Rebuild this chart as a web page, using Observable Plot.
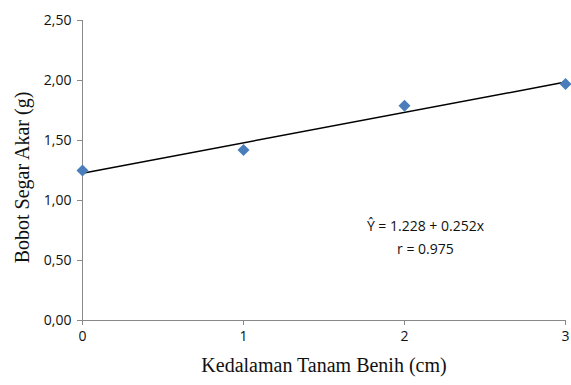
<!DOCTYPE html>
<html><head><meta charset="utf-8">
<script src="https://cdn.jsdelivr.net/npm/d3@7"></script>
<script src="https://cdn.jsdelivr.net/npm/@observablehq/plot@0.6"></script>
<style>body{margin:0;background:#fff}</style>
</head><body><div id="chart"></div>
<script>
const depth = [0, 1, 2, 3];
const rootWeight = [1.25, 1.42, 1.79, 1.97];
const yTicks = [0, 0.5, 1.0, 1.5, 2.0, 2.5];
const xTicks = [0, 1, 2, 3];
const equation = ["Ŷ = 1.228 + 0.252x", "r = 0.975"];

const data = depth.map((d, i) => ({x: d, y: rootWeight[i]}));
const axisColor = "#898989";
const tickFont = "'Open Sans', 'Liberation Sans', sans-serif";

const chart = Plot.plot({
  width: 571, height: 385,
  marginLeft: 82, marginRight: 6, marginTop: 20, marginBottom: 65,
  style: {fontFamily: tickFont, fontSize: "14px", color: "#111", background: "#fff"},
  x: {domain: [0, 3], ticks: xTicks, label: null},
  y: {domain: [0, 2.5], ticks: yTicks, label: null},
  marks: [
    Plot.axisX({ticks: xTicks, tickSize: 5, stroke: axisColor, tickPadding: 6, tickFormat: d => String(d), fontSize: 14, label: null}),
    Plot.axisY({ticks: yTicks, tickSize: 5, stroke: axisColor, tickPadding: 6, tickFormat: d => d.toFixed(2).replace(".", ","), fontSize: 14, label: null}),
    Plot.ruleX([0], {stroke: axisColor}),
    Plot.ruleY([0], {stroke: axisColor}),
    Plot.linearRegressionY(data, {x: "x", y: "y", ci: 0, stroke: "#000", strokeWidth: 1.5}),
    Plot.dot(data, {x: "x", y: "y", symbol: "square", rotate: 45, r: 4.8, fill: "#4a7ebb", stroke: "none"}),
    Plot.text([equation[0]], {x: 2.13, y: 0.78, text: d => d, fontSize: 14, fill: "#111"}),
    Plot.text([equation[1]], {x: 2.13, y: 0.59, text: d => d, fontSize: 14, fill: "#111"}),
    Plot.text(["Kedalaman Tanam Benih (cm)"], {frameAnchor: "bottom", dy: 51, text: d => d, fontFamily: "'Liberation Serif', serif", fontSize: 20, fill: "#111"}),
    Plot.text(["Bobot Segar Akar (g)"], {frameAnchor: "left", dx: -60, dy: 7, rotate: -90, textAnchor: "middle", text: d => d, fontFamily: "'Liberation Serif', serif", fontSize: 20, fill: "#111"})
  ]
});
document.getElementById("chart").appendChild(chart);
</script>
</body></html>
